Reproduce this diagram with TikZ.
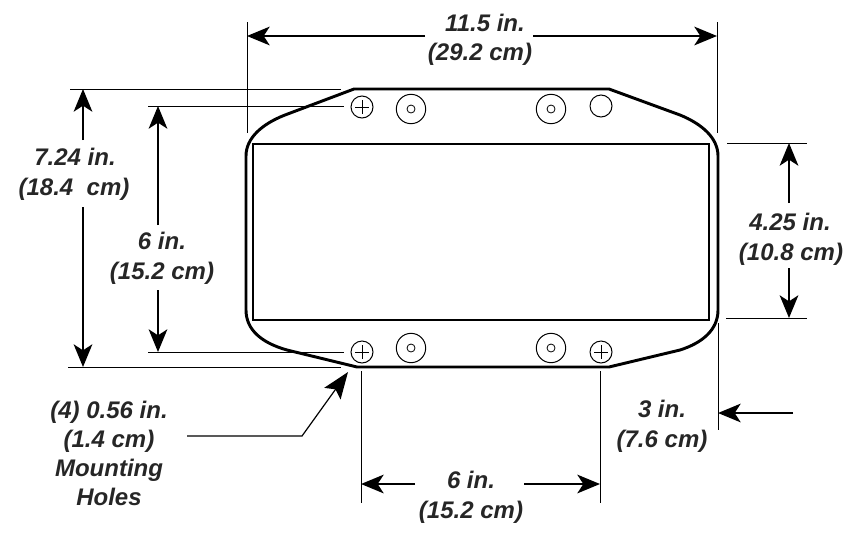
\documentclass[tikz,border=0pt]{standalone}
\usepackage{fontspec}
\setmainfont{Liberation Sans}
\usetikzlibrary{arrows.meta}
\definecolor{dimgray}{HTML}{262626}
\tikzset{
  dimtext/.style={text=dimgray, font=\fontsize{18}{20}\selectfont\bfseries\itshape, inner sep=0pt, text centered, text height=12.6, text depth=3.6},
  dimline/.style={line width=0.75},
  dimarrow/.style={-{Stealth[length=17,width=14,inset=4.5]}, line width=1.5},
  hole/.style={draw, circle, line width=0.75, minimum size=16.5, inner sep=0pt},
  boss/.style={draw, circle, line width=0.75, minimum size=22, inner sep=0pt},
  bossin/.style={draw, circle, line width=0.6, minimum size=6, inner sep=0pt}
}

\begin{document}
\begin{tikzpicture}[x=0.75pt, y=-0.75pt]
\useasboundingbox (0,0) rectangle (859,536);

% enclosure %
\draw[line width=2.2, line join=round] (354,89) -- (609,89) -- (680,115)
  .. controls (702,124) and (718,138) .. (718,156) -- (718,310)
  .. controls (718,330) and (702,343) .. (680,350) -- (609,367) -- (357,367) -- (287,350)
  .. controls (262,343) and (246,330) .. (246,310) -- (246,156)
  .. controls (246,138) and (262,124) .. (285,115) -- cycle;
\node[draw, line width=1.5, minimum width=342, minimum height=132, inner sep=0pt] (panel) at (481,231.5) {};

% holes %
\node[hole] (h1) at (362,107) {};
\node[hole] (h2) at (362,352) {};
\node[hole] (h3) at (601,352) {};
\node[hole] (h4) at (601,106) {};
\foreach \name in {h1,h2,h3} {
  \draw[dimline] (\name.center) +(-7,0) -- +(7,0) +(0,-7) -- +(0,7);
}
\foreach \name/\px/\py in {b1/411/109, b2/551/109, b3/411/348, b4/551/348} {
  \node[boss] (\name) at (\px,\py) {};
  \node[bossin] (\name in) at (\px,\py) {};
}

% labels %
\node[dimtext] (wa) at (485,25) {11.5 in.};
\node[dimtext] (wb) at (480,54) {(29.2 cm)};
\node[dimtext] (ha) at (75,159) {7.24 in.};
\node[dimtext] (hb) at (74,189) {(18.4\ \ cm)};
\node[dimtext] (ma) at (162,243) {6 in.};
\node[dimtext] (mb) at (162,273) {(15.2 cm)};
\node[dimtext] (ra) at (790,224) {4.25 in.};
\node[dimtext] (rb) at (791,254) {(10.8 cm)};
\node[dimtext] (da) at (662,411) {3 in.};
\node[dimtext] (db) at (662,441) {(7.6 cm)};
\node[dimtext] (sa) at (471,482) {6 in.};
\node[dimtext] (sb) at (471,512) {(15.2 cm)};
\node[dimtext] (la) at (109,412) {(4) 0.56 in.};
\node[dimtext] (lb) at (109,441) {(1.4 cm)};
\node[dimtext] (lc) at (109,470) {Mounting};
\node[dimtext] (ld) at (109,499) {Holes};

% extension lines %
\draw[dimline] (247,22) coordinate (wl) -- (247,133);
\draw[dimline] (717,22) coordinate (wr) -- (717,133);
\draw[dimline] (70,89) -- (341,89);
\draw[dimline] (68,367) -- (341,367);
\draw[dimline] (148,106) -- (344,106);
\draw[dimline] (148,352) -- (344,352);
\draw[dimline] (727,143) -- (807,143);
\draw[dimline] (726,318) -- (807,318);
\draw[dimline] (718,323) -- (718,430);
\draw[dimline] (361,371) -- (361,503);
\draw[dimline] (600,371) -- (600,503);

% arrows %
\coordinate (wla) at (247,36);
\coordinate (wlb) at (425,36);
\coordinate (wra) at (717,36);
\coordinate (wrb) at (533,36);
\coordinate (hta) at (83,89);
\coordinate (htb) at (83,140);
\coordinate (hba) at (83,367);
\coordinate (hbb) at (83,207);
\coordinate (mta) at (158,106);
\coordinate (mtb) at (158,225);
\coordinate (mba) at (158,352);
\coordinate (mbb) at (158,290);
\coordinate (rta) at (789,143);
\coordinate (rtb) at (789,203);
\coordinate (rba) at (789,318);
\coordinate (rbb) at (789,268);
\coordinate (dta) at (718,413);
\coordinate (dtb) at (793,413);
\coordinate (sla) at (361,484);
\coordinate (slb) at (415,484);
\coordinate (sra) at (600,484);
\coordinate (srb) at (524,484);
\draw[dimarrow] (wlb) -- (wla);
\draw[dimarrow] (wrb) -- (wra);
\draw[dimarrow] (htb) -- (hta);
\draw[dimarrow] (hbb) -- (hba);
\draw[dimarrow] (mtb) -- (mta);
\draw[dimarrow] (mbb) -- (mba);
\draw[dimarrow] (rtb) -- (rta);
\draw[dimarrow] (rbb) -- (rba);
\draw[dimarrow] (dtb) -- (dta);
\draw[dimarrow] (slb) -- (sla);
\draw[dimarrow] (srb) -- (sra);

% leader %
\coordinate (lk) at (187,436);
\coordinate (lm) at (302,436);
\coordinate (lt) at (348,372);
\draw[-{Stealth[length=20,width=15,inset=4]}, line width=0.9] (lk) -- (lm) -- (lt);

\end{tikzpicture}
\end{document}
